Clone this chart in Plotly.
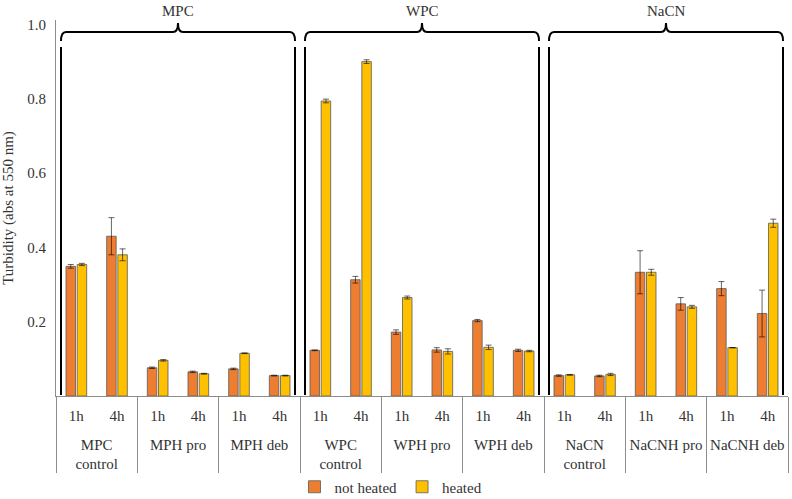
import plotly.graph_objects as go

# ---------------- data ----------------
families = ["MPC", "WPC", "NaCN"]
groups = ["MPC<br>control", "MPH pro", "MPH deb",
          "WPC<br>control", "WPH pro", "WPH deb",
          "NaCN<br>control", "NaCNH pro", "NaCNH deb"]
# a tiny blank second line under each time label leaves room before the group row
times = ["1h<br><span style='font-size:2px'>&nbsp;</span>",
         "4h<br><span style='font-size:2px'>&nbsp;</span>"]

not_heated = [0.349, 0.430, 0.076, 0.065, 0.073, 0.055,
              0.123, 0.313, 0.172, 0.124, 0.203, 0.123,
              0.055, 0.054, 0.333, 0.248, 0.289, 0.222]
not_heated_err = [0.005, 0.050, 0.002, 0.002, 0.002, 0.001,
                  0.001, 0.009, 0.006, 0.006, 0.003, 0.003,
                  0.002, 0.002, 0.058, 0.017, 0.019, 0.063]
heated = [0.354, 0.380, 0.096, 0.060, 0.115, 0.055,
          0.794, 0.900, 0.265, 0.120, 0.131, 0.121,
          0.057, 0.058, 0.333, 0.240, 0.130, 0.465]
heated_err = [0.003, 0.016, 0.002, 0.001, 0.001, 0.001,
              0.005, 0.005, 0.004, 0.007, 0.006, 0.002,
              0.001, 0.003, 0.008, 0.004, 0.000, 0.011]

y_ticks = [0.2, 0.4, 0.6, 0.8, 1.0]

# ---------------- layout constants ----------------
W, H = 792, 499
ML, MR, MT, MB = 56, 4, 20, 103
PW, PH = W - ML - MR, H - MT - MB
FONT = "Liberation Serif, Times New Roman, serif"
FS = 15
TXT = "#333333"

x_outer = [g for g in groups for _ in times]
x_inner = [t for _ in groups for t in times]


def px2x(px):
    return (px - ML) / PW


def py2y(py):
    return (MT + PH - py) / PH


fig = go.Figure()
fig.add_trace(go.Bar(
    x=[x_outer, x_inner], y=not_heated, name="not heated",
    marker=dict(color="#ED7D31", line=dict(color="#5a5a5a", width=0.8)),
    error_y=dict(type="data", array=not_heated_err, visible=True,
                 color="rgba(0,0,0,0.6)", thickness=1, width=3),
))
fig.add_trace(go.Bar(
    x=[x_outer, x_inner], y=heated, name="heated",
    marker=dict(color="#FFC000", line=dict(color="#5a5a5a", width=0.8)),
    error_y=dict(type="data", array=heated_err, visible=True,
                 color="rgba(0,0,0,0.6)", thickness=1, width=3),
))

# ---------------- brackets over the three protein families ----------------
shapes = []
annotations = []
inset = 5 / PW
r = 5 / PW            # corner radius in x (paper)
ytop = py2y(32)
ycorner = py2y(41)
ynub = py2y(23)
n_fam = len(families)
for k, fam in enumerate(families):
    x0 = k / n_fam + inset
    x1 = (k + 1) / n_fam - inset
    xc = (x0 + x1) / 2
    path = (f"M {x0},{ycorner} Q {x0},{ytop} {x0 + r},{ytop} "
            f"L {xc - r},{ytop} Q {xc},{ytop} {xc},{ynub} "
            f"Q {xc},{ytop} {xc + r},{ytop} "
            f"L {x1 - r},{ytop} Q {x1},{ytop} {x1},{ycorner}")
    shapes.append(dict(type="path", xref="paper", yref="paper", path=path,
                       line=dict(color="black", width=2)))
    for xv in (x0, x1):
        shapes.append(dict(type="line", xref="paper", yref="paper",
                           x0=xv, x1=xv, y0=py2y(47), y1=py2y(395),
                           line=dict(color="black", width=2)))
    annotations.append(dict(text=fam, xref="paper", yref="paper",
                            x=xc, y=py2y(11), showarrow=False,
                            xanchor="center", yanchor="middle",
                            font=dict(family=FONT, size=FS, color=TXT)))

fig.update_layout(
    width=W, height=H,
    margin=dict(l=ML, r=MR, t=MT, b=MB, autoexpand=False),
    paper_bgcolor="white", plot_bgcolor="white",
    barmode="group", bargap=0.45, bargroupgap=0.15,
    font=dict(family=FONT, size=FS, color=TXT),
    shapes=shapes, annotations=annotations,
    legend=dict(orientation="h", x=px2x(391), xanchor="center",
                y=py2y(487), yanchor="middle", bgcolor="rgba(0,0,0,0)",
                font=dict(family=FONT, size=FS, color=TXT),
                itemwidth=30, traceorder="normal"),
    xaxis=dict(type="multicategory", showline=True, linecolor="#8c8c8c",
               linewidth=1, ticks="", ticklabelstandoff=6,
               showgrid=False, tickangle=0,
               showdividers=True, dividercolor="#8c8c8c", dividerwidth=1,
               tickfont=dict(family=FONT, size=FS, color=TXT)),
    yaxis=dict(range=[0, 1.012], tickvals=y_ticks, tickformat=".1f",
               showline=True, linecolor="#8c8c8c", linewidth=1,
               ticks="", showgrid=False, zeroline=False,
               ticklabelstandoff=6,
               tickfont=dict(family=FONT, size=FS, color=TXT),
               title=dict(text="Turbidity (abs at 550 nm)", standoff=11,
                          font=dict(family=FONT, size=FS, color=TXT))),
)

fig.write_html("out.html",
               config={"displayModeBar": False},
               post_script="document.body.style.margin='0';")
